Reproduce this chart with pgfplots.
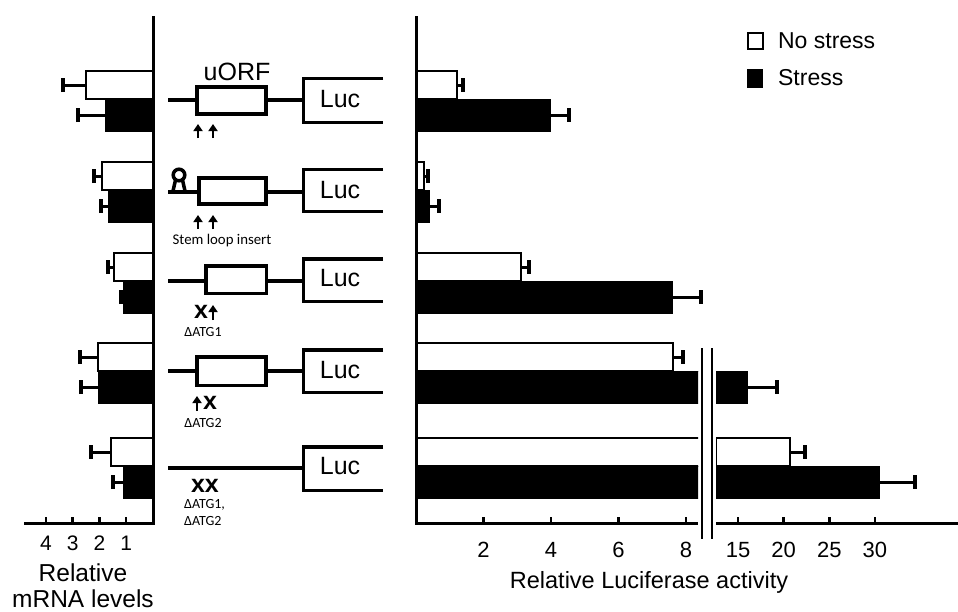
\documentclass[border=0pt]{standalone}
\usepackage{fontspec}
\setmainfont{Liberation Sans}
\newfontfamily\smallfont{Carlito}
\usepackage{pgfplots}
\pgfplotsset{compat=1.18}
\usetikzlibrary{arrows.meta}

\pgfplotsset{
  panel/.style={
    scale only axis, height=507pt, ymin=88, ymax=595,
    axis x line=bottom, axis y line=none, ytick=\empty,
    axis line style={-, line width=3pt, black},
    tick align=inside, major tick length=6pt,
    xtick style={line width=2.5pt, black},
    xbar, bar shift=0pt,
    clip mode=individual,
    /pgf/number format/assume math mode=true,
  },
  wbar/.style={fill=white, draw=black, line width=2.5pt, bar width=28, bar shift=0pt,
    error bars/x dir=plus, error bars/x explicit, error bars/error mark=|,
    error bars/error bar style={line width=3pt, black},
    error bars/error mark options={line width=4pt, mark size=7pt, black}},
  bbar/.style={fill=black, draw=black, line width=1pt, bar width=32, bar shift=0pt,
    error bars/x dir=plus, error bars/x explicit, error bars/error mark=|,
    error bars/error bar style={line width=3pt, black},
    error bars/error mark options={line width=4pt, mark size=7pt, black}},
}
\newcommand{\uparr}[3]{\draw[line width=2.5pt, -{Triangle[width=9pt,length=7pt]}] (#1,#2) -- (#1,#3);}

\begin{document}
\begin{tikzpicture}
\path[use as bounding box] (0pt,0pt) rectangle (958pt,-611pt);

% ---------- left panel: relative mRNA levels ----------
\begin{axis}[panel, at={(24pt,-523pt)}, anchor=south west, width=129pt,
  x dir=reverse, xmin=0, xmax=4.82, xtick={1,2,3,4},
  xticklabel style={anchor=base, yshift=-27pt, font=\fontsize{21}{25}\selectfont}]
\addplot[wbar] coordinates {(2.50,526) +- (0.86,0) (1.91,435) +- (0.30,0) (1.46,344) +- (0.22,0) (2.06,254) +- (0.67,0) (1.57,159) +- (0.75,0)};
\addplot[bbar] coordinates {(1.79,496) +- (1.01,0) (1.68,405) +- (0.26,0) (1.12,314) +- (0.08,0) (2.02,224) +- (0.67,0) (1.12,129) +- (0.38,0)};
\draw[line width=3pt] (axis cs:0,86.5) -- (axis cs:0,595);
\end{axis}

% ---------- right panel, part 1 (0-8) ----------
\begin{axis}[panel, at={(416pt,-523pt)}, anchor=south west, width=282pt,
  xmin=0, xmax=8.356, xtick={2,4,6,8},
  xticklabel style={anchor=base, yshift=-34pt, font=\fontsize{22}{26}\selectfont}]
% constructs whose bars end before the break
\addplot[wbar, clip=false] coordinates {(1.21,526) +- (0.18,0) (0.24,435) +- (0.12,0) (3.11,344) +- (0.24,0) (7.61,254) +- (0.30,0)};
\addplot[bbar, clip=false] coordinates {(4.00,496) +- (0.53,0) (0.41,405) +- (0.27,0) (7.61,314) +- (0.83,0)};
% constructs whose bars run past the break (cut at the break)
\addplot[wbar] coordinates {(20.69,159) +- (1.64,0)};
\addplot[bbar] coordinates {(16.09,224) +- (3.18,0) (30.55,129) +- (3.83,0)};
\draw[line width=3pt] (axis cs:0,86.5) -- (axis cs:0,595);
\end{axis}

% ---------- right panel, part 2 (15-30): only the bars that reach past the break ----------
\begin{axis}[panel, at={(716pt,-523pt)}, anchor=south west, width=242pt,
  xmin=12.59, xmax=39.1, xtick={15,20,25,30},
  xticklabel style={anchor=base, yshift=-34pt, font=\fontsize{22}{26}\selectfont},
  legend style={at={(axis description cs:0.128,0.968)}, anchor=north west, draw=none, fill=none,
    inner sep=0pt, font=\fontsize{23}{27}\selectfont, row sep=19pt,
    nodes={inner sep=0pt}},
  legend cell align=left]
\addlegendimage{legend image code/.code={\draw[black, fill=white, line width=1.5pt] (0pt,-8pt) rectangle (15pt,8pt); \path (30pt,0pt);}}
\addlegendentry{No stress}
\addlegendimage{legend image code/.code={\draw[black, fill=black, line width=1pt] (0pt,-9pt) rectangle (15pt,9pt); \path (30pt,0pt);}}
\addlegendentry{Stress}
\addplot[forget plot, wbar] coordinates {(20.69,159) +- (1.64,0)};
\addplot[forget plot, bbar] coordinates {(16.09,224) +- (3.18,0) (30.55,129) +- (3.83,0)};
\end{axis}

% ---------- schematic and labels (pixel coordinates) ----------
\begin{scope}[x=1pt,y=-1pt]
% axis break
\draw[line width=1.5pt] (702,348) -- (702,539);
\draw[line width=1.5pt] (712,348) -- (712,539);
% axis titles
\node[anchor=base, font=\fontsize{24.5}{29}\selectfont, inner sep=0pt] at (83,581) {Relative};
\node[anchor=base, font=\fontsize{24.5}{29}\selectfont, inner sep=0pt] at (83,607) {mRNA levels};
\node[anchor=base, font=\fontsize{23.5}{28}\selectfont, inner sep=0pt] at (649,588) {Relative Luciferase activity};

% row 1: uORF
\draw[line width=4.5pt] (168,100) -- (197,100);
\draw[line width=3.5pt] (197,87) rectangle (266,114);
\draw[line width=4.5pt] (268,100) -- (304,100);
\draw[line width=3.5pt] (383,78.5) -- (303.5,78.5) -- (303.5,122.5) -- (383,122.5);
\node[font=\fontsize{25}{30}\selectfont, inner sep=0pt] at (340,99) {Luc};
\node[font=\fontsize{25}{30}\selectfont, inner sep=0pt] at (237,72) {uORF};
\uparr{198}{138}{124}
\uparr{213}{138}{124}

% row 2: stem loop
\draw[line width=4.5pt] (168,192) -- (199,192);
\draw[line width=3.5pt] (179,175) circle[radius=5.8];
\draw[line width=3.5pt] (175.5,180) -- (173,191);
\draw[line width=3.5pt] (182.5,180) -- (185,191);
\draw[line width=3.5pt] (199,178) rectangle (266,204);
\draw[line width=4.5pt] (268,192) -- (304,192);
\draw[line width=3.5pt] (383,169.5) -- (303.5,169.5) -- (303.5,211.5) -- (383,211.5);
\node[font=\fontsize{25}{30}\selectfont, inner sep=0pt] at (340,190) {Luc};
\uparr{198}{229}{215}
\uparr{213}{229}{215}
\node[font=\smallfont\fontsize{14.8}{17}\selectfont, inner sep=0pt] at (222,241) {Stem loop insert};

% row 3: dATG1
\draw[line width=4.5pt] (168,281) -- (206,281);
\draw[line width=3.5pt] (205.75,265.75) rectangle (266.25,293.25);
\draw[line width=4.5pt] (268,281) -- (304,281);
\draw[line width=3.5pt] (383,258.75) -- (303.5,258.75) -- (303.5,301.25) -- (383,301.25);
\node[font=\fontsize{25}{30}\selectfont, inner sep=0pt] at (340,278) {Luc};
\node[font=\bfseries\fontsize{25}{25}\selectfont, inner sep=0pt] at (201,312) {x};
\uparr{213}{320}{305}
\node[font=\smallfont\fontsize{14}{16}\selectfont, inner sep=0pt] at (203,332) {ΔATG1};

% row 4: dATG2
\draw[line width=4.5pt] (168,371) -- (197,371);
\draw[line width=3.5pt] (197,356.75) rectangle (266,385.25);
\draw[line width=4.5pt] (268,371) -- (304,371);
\draw[line width=3.5pt] (383,349.75) -- (303.5,349.75) -- (303.5,392.25) -- (383,392.25);
\node[font=\fontsize{25}{30}\selectfont, inner sep=0pt] at (340,370) {Luc};
\uparr{197}{411}{396}
\node[font=\bfseries\fontsize{25}{25}\selectfont, inner sep=0pt] at (210,403) {x};
\node[font=\smallfont\fontsize{14}{16}\selectfont, inner sep=0pt] at (203,423) {ΔATG2};

% row 5: dATG1, dATG2
\draw[line width=4.5pt] (168,468) -- (304,468);
\draw[line width=3.5pt] (383,446.75) -- (303.5,446.75) -- (303.5,490.25) -- (383,490.25);
\node[font=\fontsize{25}{30}\selectfont, inner sep=0pt] at (340,466) {Luc};
\node[font=\bfseries\fontsize{25}{25}\selectfont, inner sep=0pt] at (205,486) {xx};
\node[anchor=base west, font=\smallfont\fontsize{14}{16}\selectfont, inner sep=0pt] at (184,508) {ΔATG1,};
\node[anchor=base west, font=\smallfont\fontsize{14}{16}\selectfont, inner sep=0pt] at (184,525) {ΔATG2};
\end{scope}
\end{tikzpicture}
\end{document}
